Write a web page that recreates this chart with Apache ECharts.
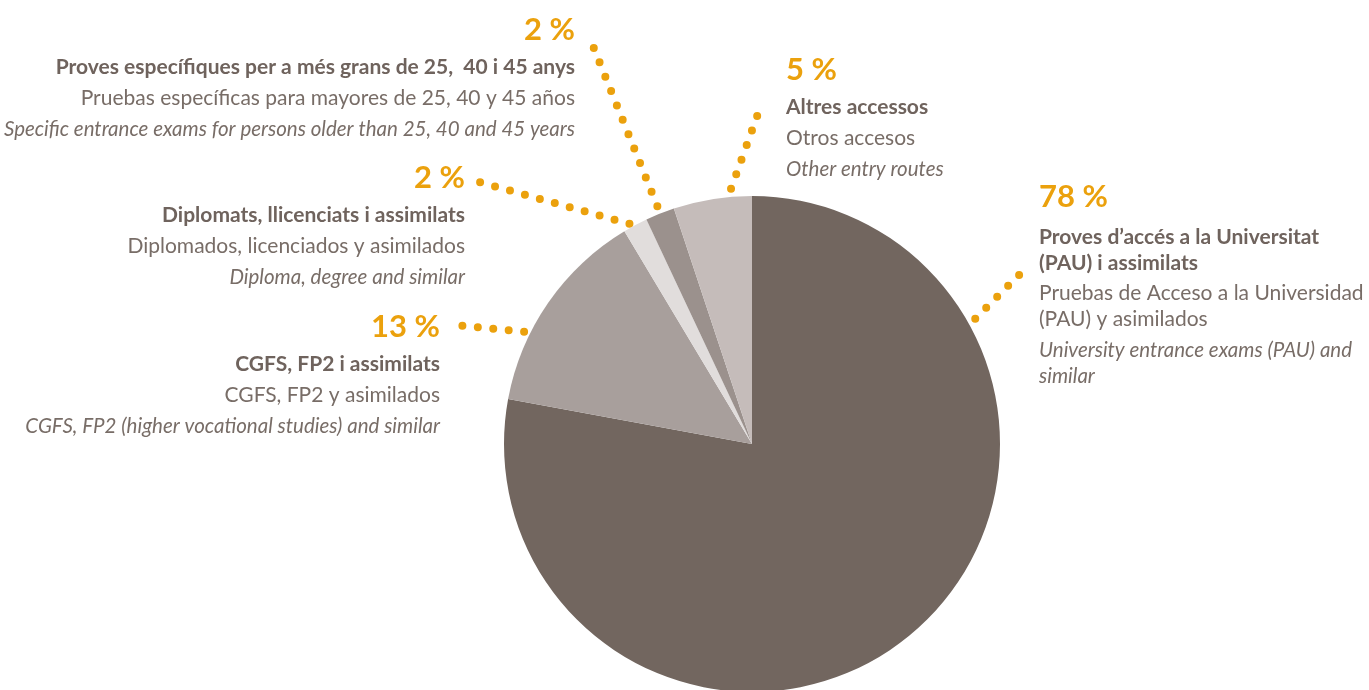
<!DOCTYPE html>
<html>
<head>
<meta charset="utf-8">
<script src="https://cdn.jsdelivr.net/npm/echarts@6/dist/echarts.min.js"></script>
<style>
html,body{margin:0;padding:0;background:#fff;}
#chart{width:1369px;height:690px;}
</style>
</head>
<body>
<div id="chart"></div>
<script>
// ---- data ----
const namesCa = [
  'Proves d\u2019accés a la Universitat\n(PAU) i assimilats',
  'CGFS, FP2 i assimilats',
  'Diplomats, llicenciats i assimilats',
  'Proves específiques per a més grans de 25,  40 i 45 anys',
  'Altres accessos'
];
const namesEs = [
  'Pruebas de Acceso a la Universidad\n(PAU) y asimilados',
  'CGFS, FP2 y asimilados',
  'Diplomados, licenciados y asimilados',
  'Pruebas específicas para mayores de 25, 40 y 45 años',
  'Otros accesos'
];
const namesEn = [
  'University entrance exams (PAU) and\nsimilar',
  'CGFS, FP2 (higher vocational studies) and similar',
  'Diploma, degree and similar',
  'Specific entrance exams for persons older than 25, 40 and 45 years',
  'Other entry routes'
];
const values = [77.9, 13.5, 1.6, 1.9, 5.1];
const pctLabels = ['78 %', '13 %', '2 %', '2 %', '5 %'];
const sliceColors = ['#72665f', '#a89f9c', '#e1dddc', '#9b918d', '#c5bcba'];

// ---- layout (not data) ----
const CX = 752, CY = 444, R = 248;
const ORANGE = '#eba10d';
const TXT_B = '#6f635d', TXT = '#786d67';
const labelPos = [
  {x: 1039, y: 179, align: 'left',  ang: 60.7,  extra: 8, end: [1020, 274]},
  {x: 440,  y: 309, align: 'right', ang: 296.2, extra: 6, end: [455, 325]},
  {x: 465,  y: 160, align: 'right', ang: 330.9, extra: 4, end: [479, 182]},
  {x: 575,  y: 12,  align: 'right', ang: 338.3, extra: 8, end: [593, 46]},
  {x: 786,  y: 52,  align: 'left',  ang: 355.3, extra: 8, end: [760, 108]}
];
function edgePt(deg, extra) {
  const a = deg * Math.PI / 180;
  return [CX + (R + extra) * Math.sin(a), CY - (R + extra) * Math.cos(a)];
}

const seriesData = values.map((v, i) => ({
  value: v,
  name: namesCa[i],
  itemStyle: {color: sliceColors[i]}
}));

const chart = echarts.init(document.getElementById('chart'), null, {renderer: 'canvas'});
chart.setOption({
  backgroundColor: '#ffffff',
  animation: false,
  series: [{
    type: 'pie',
    center: [CX, CY],
    radius: [0, R],
    startAngle: 90,
    clockwise: true,
    avoidLabelOverlap: false,
    silent: true,
    data: seriesData,
    label: {
      show: true,
      position: 'outside',
      fontFamily: 'Lato',
      formatter: function (p) {
        const i = p.dataIndex;
        const multi = namesCa[i].indexOf('\n') >= 0;
        if (multi) {
          return '{p|' + pctLabels[i] + '}\n{s9| }\n{b|' + namesCa[i] + '}\n{s4| }\n{r|' + namesEs[i] + '}\n{s5| }\n{i|' + namesEn[i] + '}';
        }
        return '{p|' + pctLabels[i] + '}\n{s6| }\n{b|' + namesCa[i] + '}\n{s5| }\n{r|' + namesEs[i] + '}\n{s5| }\n{i|' + namesEn[i] + '}';
      },
      rich: {
        p: {fontFamily: 'Lato', fontSize: 31, fontWeight: 'bold', color: ORANGE, lineHeight: 36},
        b: {fontFamily: 'Lato', fontSize: 21, fontWeight: 'bold', color: TXT_B, lineHeight: 26},
        r: {fontFamily: 'Lato', fontSize: 21, color: TXT, lineHeight: 26},
        i: {fontFamily: 'Lato', fontSize: 20.5, fontStyle: 'italic', color: TXT, lineHeight: 26},
        s4: {fontSize: 1, lineHeight: 4},
        s5: {fontSize: 1, lineHeight: 5},
        s6: {fontSize: 1, lineHeight: 6},
        s9: {fontSize: 1, lineHeight: 9}
      }
    },
    labelLine: {
      show: true,
      lineStyle: {color: ORANGE, width: 8, type: [0, 15.5], cap: 'round'}
    },
    labelLayout: function (params) {
      const L = labelPos[params.dataIndex];
      const s = edgePt(L.ang, L.extra);
      const e = L.end;
      return {
        x: L.x, y: L.y, align: L.align, verticalAlign: 'top',
        labelLinePoints: [s, [(s[0] + e[0]) / 2, (s[1] + e[1]) / 2], e]
      };
    }
  }]
});
</script>
</body>
</html>
